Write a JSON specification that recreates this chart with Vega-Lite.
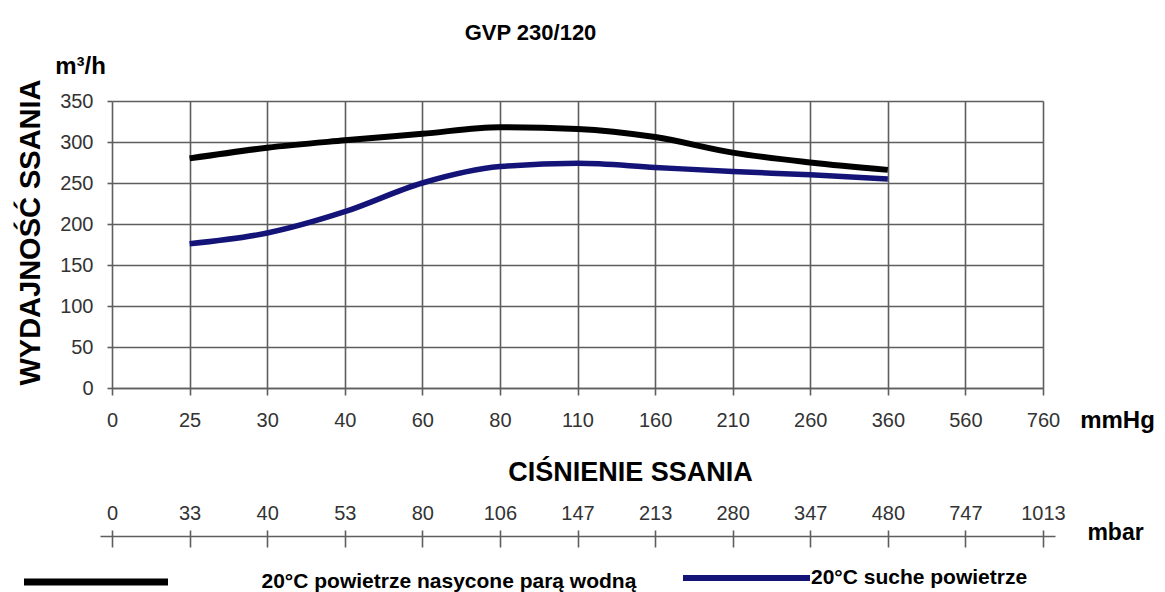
{
  "$schema": "https://vega.github.io/schema/vega-lite/v6.json",
  "autosize": {"type": "none"},
  "padding": {"left": 112, "top": 101, "right": 122, "bottom": 204},
  "width": 931,
  "height": 287,
  "background": "white",
  "config": {
    "view": {"stroke": null},
    "axis": {"labelFont": "Liberation Sans", "titleFont": "Liberation Sans"},
    "legend": {"labelFont": "Liberation Sans", "titleFont": "Liberation Sans"}
  },
  "data": {
    "values": [
      {"mmHg": 0, "mbar": 0, "wet": null, "dry": null},
      {"mmHg": 25, "mbar": 33, "wet": 280, "dry": 176},
      {"mmHg": 30, "mbar": 40, "wet": 293, "dry": 189},
      {"mmHg": 40, "mbar": 53, "wet": 302, "dry": 215},
      {"mmHg": 60, "mbar": 80, "wet": 310, "dry": 250},
      {"mmHg": 80, "mbar": 106, "wet": 318, "dry": 270},
      {"mmHg": 110, "mbar": 147, "wet": 316, "dry": 274},
      {"mmHg": 160, "mbar": 213, "wet": 306, "dry": 269},
      {"mmHg": 210, "mbar": 280, "wet": 287, "dry": 264},
      {"mmHg": 260, "mbar": 347, "wet": 275, "dry": 260},
      {"mmHg": 360, "mbar": 480, "wet": 266, "dry": 255},
      {"mmHg": 560, "mbar": 747, "wet": null, "dry": null},
      {"mmHg": 760, "mbar": 1013, "wet": null, "dry": null}
    ]
  },
  "layer": [
    {
      "layer": [
        {
          "mark": {"type": "line", "interpolate": "monotone", "strokeWidth": 6, "strokeCap": "butt"},
          "encoding": {
            "x": {
              "field": "mmHg", "type": "ordinal",
              "scale": {"type": "point", "padding": 0, "domain": [0, 25, 30, 40, 60, 80, 110, 160, 210, 260, 360, 560, 760]},
              "axis": {"orient": "bottom", "grid": true, "gridColor": "#5e5e5e", "gridWidth": 1.6, "domainColor": "#5e5e5e", "domainWidth": 1.6, "tickColor": "#5e5e5e", "tickWidth": 1.6, "tickSize": 7, "labelAngle": 0, "labelFontSize": 20, "labelColor": "#333333", "labelPadding": 25, "labelBaseline": "middle", "labelOverlap": false, "title": "mmHg", "titleX": 1005, "titleY": 32, "titleAlign": "center", "titleBaseline": "middle", "titleAngle": 0, "titleFontSize": 24, "titleFontWeight": "bold", "titleColor": "#000000"}
            },
            "y": {
              "field": "wet", "type": "quantitative",
              "scale": {"domain": [0, 350], "nice": false},
              "axis": {"orient": "left", "values": [0, 50, 100, 150, 200, 250, 300, 350], "grid": true, "gridColor": "#5e5e5e", "gridWidth": 1.6, "domain": false, "tickColor": "#5e5e5e", "tickWidth": 1.6, "tickSize": 5, "labelPadding": 14, "labelFontSize": 20, "labelColor": "#333333", "title": "WYDAJNOŚĆ SSANIA", "titleX": -82, "titleY": 131, "titleAngle": 270, "titleAlign": "center", "titleBaseline": "middle", "titleFontSize": 29, "titleFontWeight": "bold", "titleColor": "#000000"}
            },
            "color": {
              "datum": "20°C powietrze nasycone parą wodną",
              "scale": {"range": ["#000000"]},
              "legend": {"orient": "none", "legendX": -91.5, "legendY": 405.5, "title": null, "padding": 0, "symbolType": "stroke", "symbolSize": 20736, "symbolStrokeWidth": 7, "labelOffset": 90, "labelFontSize": 21, "labelFontWeight": "bold", "labelColor": "#000000", "labelLimit": 0}
            }
          }
        },
        {
          "mark": {"type": "line", "interpolate": "monotone", "strokeWidth": 5.5, "strokeCap": "butt"},
          "encoding": {
            "x": {
              "field": "mmHg", "type": "ordinal",
              "scale": {"type": "point", "padding": 0, "domain": [0, 25, 30, 40, 60, 80, 110, 160, 210, 260, 360, 560, 760]},
              "axis": {"orient": "bottom", "grid": true, "gridColor": "#5e5e5e", "gridWidth": 1.6, "domainColor": "#5e5e5e", "domainWidth": 1.6, "tickColor": "#5e5e5e", "tickWidth": 1.6, "tickSize": 7, "labelAngle": 0, "labelFontSize": 20, "labelColor": "#333333", "labelPadding": 25, "labelBaseline": "middle", "labelOverlap": false, "title": "mmHg", "titleX": 1005, "titleY": 32, "titleAlign": "center", "titleBaseline": "middle", "titleAngle": 0, "titleFontSize": 24, "titleFontWeight": "bold", "titleColor": "#000000"}
            },
            "y": {
              "field": "dry", "type": "quantitative",
              "scale": {"domain": [0, 350], "nice": false},
              "axis": {"orient": "left", "values": [0, 50, 100, 150, 200, 250, 300, 350], "grid": true, "gridColor": "#5e5e5e", "gridWidth": 1.6, "domain": false, "tickColor": "#5e5e5e", "tickWidth": 1.6, "tickSize": 5, "labelPadding": 14, "labelFontSize": 20, "labelColor": "#333333", "title": "WYDAJNOŚĆ SSANIA", "titleX": -82, "titleY": 131, "titleAngle": 270, "titleAlign": "center", "titleBaseline": "middle", "titleFontSize": 29, "titleFontWeight": "bold", "titleColor": "#000000"}
            },
            "stroke": {
              "datum": "20°C suche powietrze",
              "scale": {"range": ["#141478"]},
              "legend": {"orient": "none", "legendX": 568, "legendY": 410.5, "title": null, "padding": 0, "symbolType": "stroke", "symbolSize": 16129, "symbolStrokeWidth": 6, "labelOffset": -2, "labelFontSize": 21, "labelFontWeight": "bold", "labelColor": "#000000", "labelLimit": 0}
            }
          }
        }
      ]
    },
    {
      "mark": {"type": "point", "opacity": 0},
      "encoding": {
        "x": {
          "field": "mbar", "type": "ordinal",
          "scale": {"type": "point", "range": [-12, 943], "padding": 0.1547},
          "axis": {"orient": "bottom", "offset": 148, "grid": false, "domainColor": "#5e5e5e", "domainWidth": 1.6, "tickColor": "#5e5e5e", "tickWidth": 1.6, "tickSize": 11, "labelAngle": 0, "labelPadding": -34, "labelBaseline": "middle", "labelFontSize": 20, "labelColor": "#333333", "labelOverlap": false, "title": "CIŚNIENIE SSANIA", "titleX": 518, "titleY": -64, "titleAlign": "center", "titleBaseline": "middle", "titleAngle": 0, "titleFontSize": 27, "titleFontWeight": "bold", "titleColor": "#000000"}
        }
      }
    },
    {
      "mark": {"type": "point", "opacity": 0},
      "encoding": {
        "x": {
          "field": "mmHg", "type": "ordinal",
          "scale": {"type": "point", "padding": 0},
          "axis": {"orient": "top", "offset": -435, "grid": false, "domain": false, "labels": false, "ticks": true, "tickSize": 6, "tickColor": "#5e5e5e", "tickWidth": 1.6, "title": "GVP 230/120", "titleX": 418, "titleY": -504, "titleAlign": "center", "titleBaseline": "middle", "titleAngle": 0, "titleFontSize": 22, "titleFontWeight": "bold", "titleColor": "#000000"}
        }
      }
    },
    {
      "mark": {"type": "point", "opacity": 0},
      "encoding": {
        "x": {
          "field": "mmHg", "type": "ordinal",
          "scale": {"type": "point", "padding": 0},
          "axis": {"orient": "bottom", "grid": false, "domain": false, "labels": false, "ticks": false, "title": "mbar", "titleX": 1003, "titleY": 144, "titleAlign": "center", "titleBaseline": "middle", "titleAngle": 0, "titleFontSize": 23, "titleFontWeight": "bold", "titleColor": "#000000"}
        },
        "y": {
          "field": "wet", "type": "quantitative",
          "axis": {"orient": "left", "grid": false, "domain": false, "labels": false, "ticks": false, "title": "m³/h", "titleX": -32, "titleY": -35, "titleAlign": "center", "titleBaseline": "middle", "titleAngle": 0, "titleFontSize": 24, "titleFontWeight": "bold", "titleColor": "#000000"}
        }
      }
    }
  ],
  "resolve": {
    "scale": {"x": "independent", "y": "independent"},
    "axis": {"x": "independent", "y": "independent"}
  }
}
